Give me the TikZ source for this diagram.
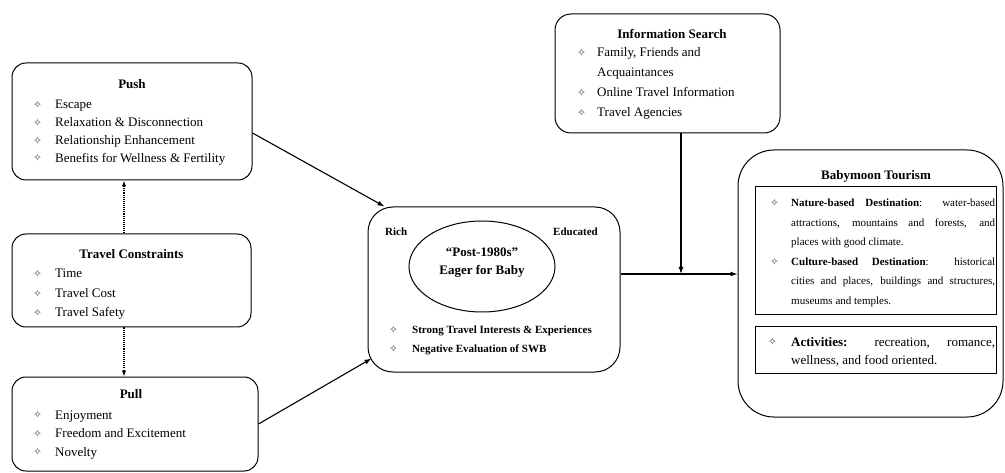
\documentclass[tikz,border=0pt]{standalone}
\usepackage{fontspec}
\setmainfont{Liberation Serif}
\newfontfamily\symfont{DejaVu Sans}
\usetikzlibrary{shapes.geometric, arrows.meta}

% hanging bullet: #1 = distance from bullet to text
\newcommand\bul[1]{\leavevmode\llap{\makebox[#1][l]{\raisebox{0.3pt}{\symfont\fontsize{10.5}{10.5}\selectfont\color{black!75}✧}}}}
% list block: width, font size, line distance, content
\newcommand\plist[4]{\begin{minipage}[t]{#1}\setlength\parindent{0pt}\setlength\parskip{0pt}\tolerance=10000 \hbadness=10000 \fontsize{#2}{#3}\selectfont #4\end{minipage}}

\begin{document}
\begin{tikzpicture}[x=1pt,y=-1pt,
  box/.style={draw, line width=1pt, rounded corners=#1, inner sep=0pt},
  box/.default=14pt,
  plain/.style={draw, line width=1pt, inner sep=0pt},
  ttl/.style={font=\bfseries\fontsize{13}{15}\selectfont, anchor=base, inner sep=0pt},
  lst/.style={anchor=base west, inner sep=0pt},
  arr/.style={line width=1.1pt, -{Latex[length=7pt,width=5pt]}},
  dotarr/.style={line width=1.1pt, densely dotted, -{Latex[length=6pt,width=4.5pt]}}]
\useasboundingbox (0,0) rectangle (1005,473);

% Push
\node[box, minimum width=240pt, minimum height=117pt] (push) at (132,121.5) {};
\node[ttl] (pushT) at (132,89) {Push};
\node[lst] (pushL) at (55,109) {\plist{190pt}{13}{17.7}{%
  \bul{22pt}Escape\par
  \bul{22pt}Relaxation \& Disconnection\par
  \bul{22pt}Relationship Enhancement\par
  \bul{22pt}Benefits for Wellness \& Fertility}};

% Travel constraints
\node[box, minimum width=239pt, minimum height=93pt] (tc) at (131.5,280.5) {};
\node[ttl] (tcT) at (131.5,259) {Travel Constraints};
\node[lst] (tcL) at (55,278) {\plist{190pt}{13}{19.5}{%
  \bul{22pt}Time\par
  \bul{22pt}Travel Cost\par
  \bul{22pt}Travel Safety}};

% Pull
\node[box, minimum width=246pt, minimum height=94pt] (pull) at (135,424) {};
\node[ttl] (pullT) at (131,399) {Pull};
\node[lst] (pullL) at (55,419) {\plist{190pt}{13}{18.5}{%
  \bul{22pt}Enjoyment\par
  \bul{22pt}Freedom and Excitement\par
  \bul{22pt}Novelty}};

% Information search
\node[box=16pt, minimum width=225pt, minimum height=119pt] (info) at (667.5,73.5) {};
\node[ttl] (infoT) at (672,39) {Information Search};
\node[lst] (infoL) at (597,57) {\plist{170pt}{13}{20}{%
  \bul{20pt}Family, Friends and\\Acquaintances\par
  \bul{20pt}Online Travel Information\par
  \bul{20pt}Travel Agencies}};

% Central tourist profile
\node[box=25pt, minimum width=252pt, minimum height=165pt] (hub) at (494,289.5) {};
\node[draw, ellipse, line width=1pt, minimum width=146pt, minimum height=91pt, inner sep=0pt] (core) at (482,266.5) {};
\node[align=center, inner sep=0pt, font=\bfseries\fontsize{13}{18}\selectfont] (coreT) at (482,263) {“Post-1980s”\\Eager for Baby};
\node[lst, font=\bfseries\fontsize{11}{13}\selectfont] (rich) at (385,236) {Rich};
\node[anchor=base east, inner sep=0pt, font=\bfseries\fontsize{11}{13}\selectfont] (edu) at (598,236) {Educated};
\node[lst] (hubL) at (412,334) {\plist{200pt}{11}{19}{\bfseries
  \bul{23pt}Strong Travel Interests \& Experiences\par
  \bul{23pt}Negative Evaluation of SWB}};

% Babymoon tourism
\node[box=36pt, minimum width=265pt, minimum height=267pt] (baby) at (870.5,283.5) {};
\node[ttl] (babyT) at (876,180) {Babymoon Tourism};
\node[plain, minimum width=241pt, minimum height=128pt] (dest) at (875.5,251) {};
\node[lst] (destL) at (791,207) {\plist{204pt}{11}{19.5}{%
  \bul{21pt}\textbf{Nature-based Destination}: water-based\linebreak
  attractions, mountains and forests, and\linebreak
  places with good climate.\par
  \bul{21pt}\textbf{Culture-based Destination}: historical\linebreak
  cities and places, buildings and structures,\linebreak
  museums and temples.}};
\node[plain, minimum width=241pt, minimum height=46pt] (act) at (875.5,350) {};
\node[lst] (actL) at (791,346) {\plist{204pt}{13}{18}{%
  \bul{23pt}\textbf{Activities:} recreation, romance,\linebreak
  wellness, and food oriented.}};

% Connectors
\draw[arr] ([yshift=-11.5pt]push.east) -- ([xshift=17pt]hub.north west);
\draw[arr] (pull.east) -- ([xshift=4pt,yshift=14pt]hub.south west);
\draw[dotarr] ([xshift=-7.5pt]tc.north) -- ([xshift=-7.5pt]tc.north |- push.south);
\draw[dotarr] ([xshift=-7.5pt]tc.south) -- ([xshift=-7.5pt]tc.south |- pull.north);
\coordinate (j) at ([yshift=15.5pt]hub.east);
\draw[arr] (j) -- (j -| baby.west);
\draw[arr] ([xshift=13.5pt]info.south) -- ([xshift=13.5pt]info.south |- j);
\end{tikzpicture}
\end{document}
